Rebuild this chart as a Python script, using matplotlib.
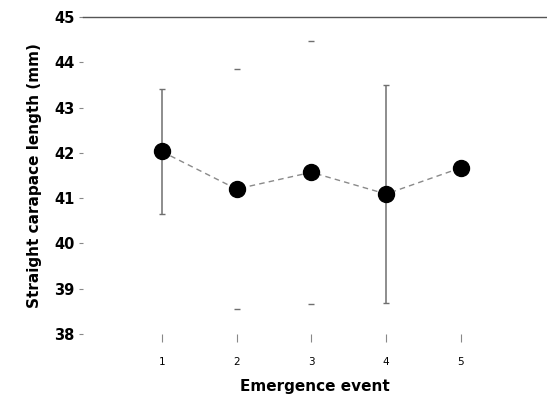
import matplotlib
matplotlib.use("Agg")
import matplotlib.pyplot as plt

# mean straight carapace length per emergence event, with SD
events = [1, 2, 3, 4, 5]
mean_scl = [42.03, 41.2, 41.57, 41.09, 41.67]
sd_scl = [1.38, 2.65, 2.9, 2.41, 0.0]
yticks = [38, 39, 40, 41, 42, 43, 44, 45]

fig = plt.figure(figsize=(5.47, 3.97), dpi=100)
ax = fig.add_axes([0.152, 0.159, 0.848, 0.798])

# whiskers: events 1 and 4 show full bars, 2 and 3 only caps
for x, m, s in zip(events, mean_scl, sd_scl):
    if s == 0:
        continue
    full = x in (1, 4)
    ax.errorbar(x, m, yerr=s, fmt="none", ecolor="#6f6f6f",
                elinewidth=1.1 if full else 0, capsize=2, capthick=1.0,
                zorder=1)

ax.plot(events, mean_scl, linestyle=(0, (4, 3)), color="#8a8a8a",
        linewidth=1.0, zorder=2)
ax.plot(events, mean_scl, "o", color="black", markersize=11.5, zorder=3)

ax.set_xlim(-0.05, 6.15)
ax.set_ylim(38, 45)
ax.set_yticks(yticks)
ax.set_xticks(events)

for side in ("left", "right", "bottom"):
    ax.spines[side].set_visible(False)
ax.spines["top"].set_color("#555555")
ax.spines["top"].set_linewidth(1.0)

ax.tick_params(axis="y", length=3, width=0.8, color="#888888", pad=3,
               labelsize=10.5)
ax.tick_params(axis="x", length=6, width=0.8, color="#888888", pad=11,
               labelsize=7.5)
for lab in ax.get_yticklabels():
    lab.set_fontweight("bold")

ax.set_xlabel("Emergence event", fontsize=11, fontweight="bold", labelpad=8)
ax.set_ylabel("Straight carapace length (mm)", fontsize=11,
              fontweight="bold", labelpad=9)

fig.savefig("out.png", dpi=100)
